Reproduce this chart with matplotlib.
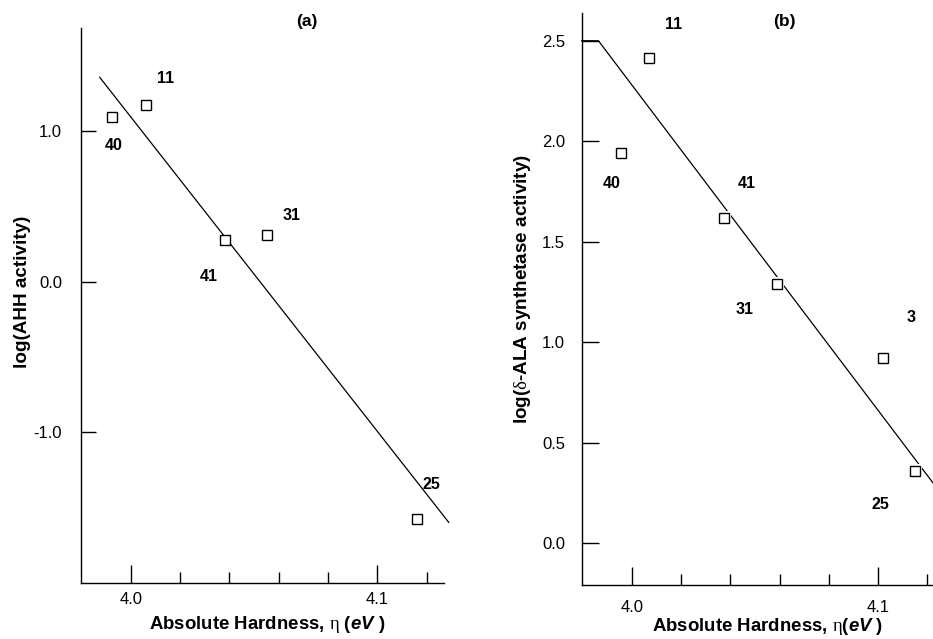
import matplotlib
matplotlib.use('Agg')
import matplotlib.pyplot as plt

plt.rcParams['font.family'] = ['Liberation Sans', 'DejaVu Sans']
plt.rcParams['mathtext.fontset'] = 'custom'
plt.rcParams['mathtext.rm'] = 'Liberation Serif'
plt.rcParams['mathtext.it'] = 'Liberation Sans:italic:bold'
plt.rcParams['axes.linewidth'] = 1.0

# (a) AHH activity
a_x = [3.9924, 4.0062, 4.0382, 4.0554, 4.1162]
a_y = [1.098, 1.173, 0.277, 0.313, -1.575]
a_labels = ['40', '11', '41', '31', '25']
a_lab_x = [3.9929, 4.0143, 4.0318, 4.0653, 4.1221]
a_lab_y = [0.907, 1.353, 0.038, 0.44, -1.347]
a_fit_x = [3.9874, 4.129]
a_fit_y = [1.36, -1.60]

# (b) delta-ALA synthetase activity
b_x = [3.9955, 4.0068, 4.0372, 4.0589, 4.1023, 4.1153]
b_y = [1.940, 2.412, 1.616, 1.289, 0.920, 0.357]
b_labels = ['40', '11', '41', '31', '3', '25']
b_lab_x = [3.9916, 4.0170, 4.0465, 4.0458, 4.1136, 4.1010]
b_lab_y = [1.792, 2.580, 1.792, 1.163, 1.122, 0.192]
b_fit_x = [3.9794, 3.9862, 4.1225]
b_fit_y = [2.5, 2.5, 0.30]

fig = plt.figure(figsize=(9.33, 6.39), dpi=100)
ax1 = fig.add_axes([0.0868, 0.0884, 0.4762 - 0.0868, 0.9557 - 0.0884])
ax2 = fig.add_axes([0.6235, 0.0845, 1.0 - 0.6235, 0.979 - 0.0845])

for ax in (ax1, ax2):
    ax.spines['top'].set_visible(False)
    ax.spines['right'].set_visible(False)
    ax.set_xticks([4.0, 4.1])
    ax.set_xticklabels(['4.0', '4.1'])
    ax.set_xticks([4.02, 4.04, 4.06, 4.08, 4.12], minor=True)
    ax.tick_params(axis='x', which='major', direction='in', length=13, width=1,
                   labelsize=12)
    ax.tick_params(axis='x', which='minor', direction='in', length=8.2, width=1)
    ax.tick_params(top=False, right=False)

# panel (a)
ax1.plot(a_fit_x, a_fit_y, color='black', lw=0.9, clip_on=False, zorder=2)
ax1.plot(a_x, a_y, 's', ms=7.2, mfc='white', mec='black', mew=1, zorder=4)
for t, x, y in zip(a_labels, a_lab_x, a_lab_y):
    ax1.text(x, y, t, ha='center', va='center', fontsize=11.5, fontweight='bold')
ax1.text(4.0714, 1.73, '(a)', ha='center', va='center', fontsize=12.5,
         fontweight='bold', clip_on=False)
ax1.set_xlim(3.9798, 4.1272)
ax1.set_ylim(-2.0, 1.686)
ax1.set_yticks([-1.0, 0.0, 1.0])
ax1.set_yticklabels(['-1.0', '0.0', '1.0'])
ax1.tick_params(axis='y', direction='in', length=11, width=1, labelsize=12, pad=13.5)
ax1.tick_params(axis='x', which='major', pad=7)
ax1.set_ylabel('log(AHH activity)', fontsize=13.6, fontweight='bold')
ax1.yaxis.set_label_coords(-0.1376, 0.524)
ax1.set_xlabel(r'Absolute Hardness, $\mathrm{\eta}$ ($eV$ )', fontsize=13.4,
               fontweight='bold')
ax1.xaxis.set_label_coords(0.512, -0.057)

# panel (b)
ax2.plot(b_fit_x, b_fit_y, color='black', lw=0.9, clip_on=False, zorder=2)
ax2.plot(b_x, b_y, 's', ms=10.5, mfc='white', mec='white', mew=0, zorder=3)
ax2.plot(b_x, b_y, 's', ms=7.2, mfc='white', mec='black', mew=1, zorder=4)
for t, x, y in zip(b_labels, b_lab_x, b_lab_y):
    ax2.text(x, y, t, ha='center', va='center', fontsize=11.5, fontweight='bold')
ax2.text(4.062, 2.594, '(b)', ha='center', va='center', fontsize=12.5,
         fontweight='bold', clip_on=False)
ax2.set_xlim(3.9794, 4.1225)
ax2.set_ylim(-0.208, 2.636)
ax2.set_yticks([0.0, 0.5, 1.0, 1.5, 2.0, 2.5])
ax2.set_yticklabels(['0.0', '0.5', '1.0', '1.5', '2.0', '2.5'])
ax2.tick_params(axis='y', direction='in', length=12.5, width=1, labelsize=12, pad=12)
ax2.tick_params(axis='x', which='major', pad=11)
ax2.set_ylabel(r'log($\mathrm{\delta}$-ALA synthetase activity)', fontsize=13.6,
               fontweight='bold')
ax2.yaxis.set_label_coords(-0.139, 0.518)
ax2.set_xlabel(r'Absolute Hardness, $\mathrm{\eta}$($eV$ )', fontsize=13.4,
               fontweight='bold')
ax2.xaxis.set_label_coords(0.529, -0.055)

fig.savefig('out.png', dpi=100)
